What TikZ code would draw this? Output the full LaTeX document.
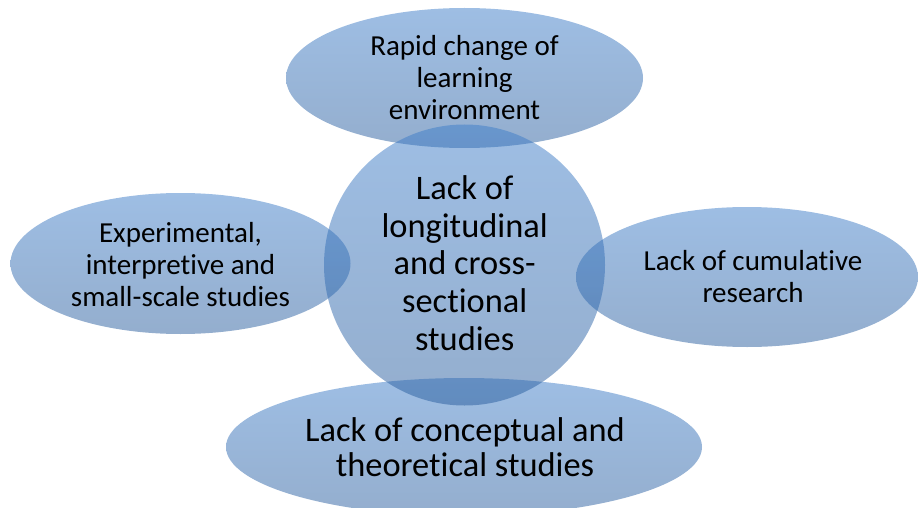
\documentclass[tikz,border=0pt]{standalone}
\usepackage{fontspec}
\setmainfont{Carlito}[Ligatures=CommonOff]
\usetikzlibrary{shapes.geometric}
\definecolor{blobtop}{RGB}{61,125,201}
\definecolor{blobbot}{RGB}{41,93,157}
\tikzset{
  blob/.style={ellipse, inner sep=0pt, draw=none,
    top color=blobtop, bottom color=blobbot, fill opacity=0.5},
  smalltxt/.style={align=center, text=black, font=\fontsize{29}{32}\selectfont},
  bigtxt/.style={align=center, text=black, font=\fontsize{34.4}{37.8}\selectfont},
}
\begin{document}
\begin{tikzpicture}[x=1pt,y=-1pt]
  \useasboundingbox (0,0) rectangle (918,508);
  \clip (0,0) rectangle (918,508);
  % translucent shapes
  \node[blob, minimum width=357pt, minimum height=140pt] (top) at (464.5,78) {};
  \node[blob, minimum width=340pt, minimum height=141pt] (left) at (180.5,263.5) {};
  \node[blob, minimum width=342pt, minimum height=140pt] (right) at (747,277) {};
  \node[blob, minimum width=476pt, minimum height=138pt] (bottom) at (464,447) {};
  \node[blob, circle, minimum size=281pt] (hub) at (464.5,265) {};
  % labels
  \node[smalltxt] (topT) at (top) {Rapid change of\\learning\\environment};
  \node[smalltxt] (leftT) at (180.5,265) {Experimental,\\interpretive and\\small-scale studies};
  \node[smalltxt] (rightT) at (753,277) {Lack of cumulative\\research};
  \node[bigtxt] (hubT) at (464.7,263) {Lack of\\longitudinal\\and cross-\\sectional\\studies};
  \node[bigtxt, font=\fontsize{34.4}{35}\selectfont] (bottomT) at (465,447.5) {Lack of conceptual and\\theoretical studies};
\end{tikzpicture}
\end{document}
